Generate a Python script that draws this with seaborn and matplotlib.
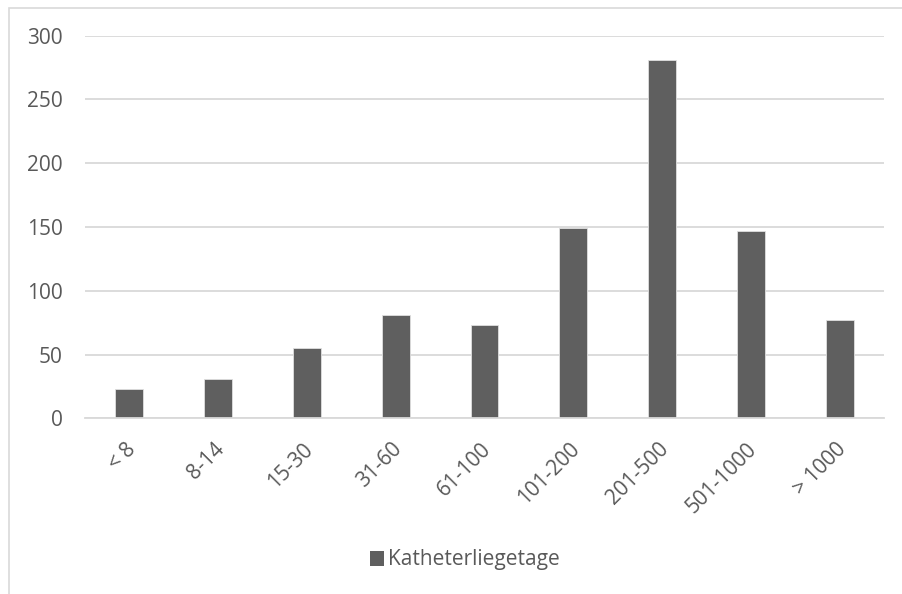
import matplotlib
matplotlib.use("Agg")
import matplotlib.pyplot as plt
import matplotlib.transforms as mtransforms
import seaborn as sns
import pandas as pd
from matplotlib.patches import Rectangle

categories = ["< 8", "8-14", "15-30", "31-60", "61-100", "101-200", "201-500", "501-1000", "> 1000"]
values = [23, 31, 55, 81, 73, 149, 281, 147, 77]
series_name = "Katheterliegetage"
yticks = [0, 50, 100, 150, 200, 250, 300]

sns.set_theme(style="white")
plt.rcParams['font.family'] = ['Open Sans', 'DejaVu Sans']

df = pd.DataFrame({"cat": categories, "val": values, "series": series_name})

W, H = 903, 594
fig = plt.figure(figsize=(W / 100, H / 100), dpi=100)
ax = fig.add_axes([85 / W, 1 - 418.3 / H, (884 - 85) / W, (418.3 - 35.7) / H])

sns.barplot(data=df, x="cat", y="val", hue="series", palette=["#5f5f5f"],
            width=0.315, ax=ax, legend=True, saturation=1,
            edgecolor="#e0e0e0", linewidth=0.6)

ax.set_ylim(0, 300)
ax.set_xlim(-0.5, len(categories) - 0.5)
ax.set_yticks(yticks)
ax.set_yticklabels([str(t) for t in yticks], fontsize=15, color="#595959")
ax.yaxis.grid(True, color="#d9d9d9", linewidth=1.3)
ax.set_axisbelow(True)
for s in ["top", "right", "left"]:
    ax.spines[s].set_visible(False)
ax.spines["bottom"].set_color("#d9d9d9")
ax.spines["bottom"].set_linewidth(1.3)
ax.tick_params(axis="y", length=0, pad=16)
ax.set_xticks(range(len(categories)))
ax.set_xticklabels(categories, rotation=45, ha="right", va="center", rotation_mode="anchor",
                   fontsize=15, color="#595959")
ax.tick_params(axis="x", length=0, pad=20)
offset = mtransforms.ScaledTranslation(3 / 100, 0, fig.dpi_scale_trans)
for lbl in ax.get_xticklabels():
    lbl.set_transform(lbl.get_transform() + offset)
ax.set_xlabel("")
ax.set_ylabel("")

leg = ax.legend(loc="center", bbox_to_anchor=(465 / W, 1 - 560 / H), bbox_transform=fig.transFigure,
                frameon=False, fontsize=15, handlelength=0.7, handleheight=0.7,
                handletextpad=0.2, labelcolor="#595959")
for h in leg.legend_handles:
    h.set_edgecolor("none")

fig.patches.append(Rectangle((8.5 / W, -0.05), 1.0, 1 + 0.05 - 7.5 / H, transform=fig.transFigure,
                             fill=False, edgecolor="#d9d9d9", linewidth=1.2))

fig.savefig("out.png", dpi=100)
